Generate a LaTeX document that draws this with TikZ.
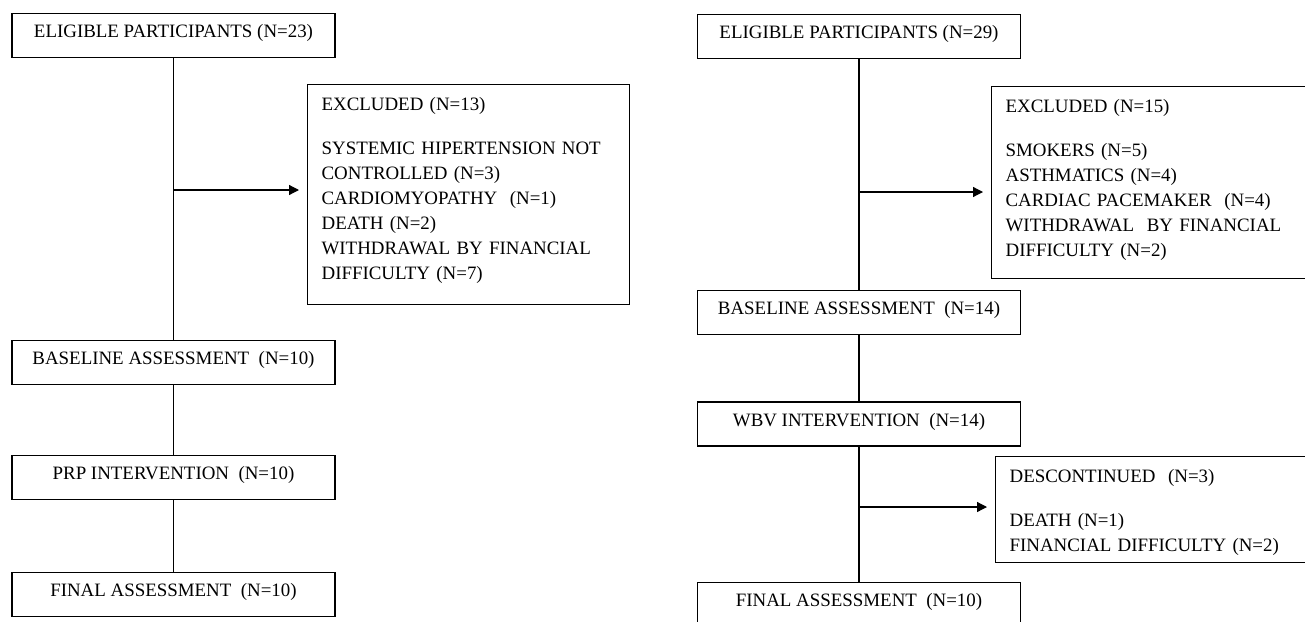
\documentclass[tikz,border=0pt]{standalone}
\usepackage{fontspec}
\setmainfont{Liberation Serif}
\usetikzlibrary{arrows.meta, positioning}

\begin{document}
\begin{tikzpicture}[
    x=1pt, y=1pt,
    stage/.style = {draw=black, rectangle, anchor=north, minimum width=323pt, text height=24pt, text depth=20pt, inner ysep=0pt},
    detailBox/.style = {draw=black, rectangle, anchor=north west, align=left, inner xsep=14pt, inner ysep=0pt, text height=26pt},
    branch/.style = {-{Triangle[length=10pt, width=10pt]}, shorten >=8pt},
    line width=1.2pt,
    font=\fontsize{18.9}{25}\selectfont
]
\useasboundingbox (0,0) rectangle (1305,-621);
\clip (0,0) rectangle (1305,-621);

\node(EligiblePrp)[stage] at (173.5,-13) {ELIGIBLE PARTICIPANTS (N=23)};
\node(BaselinePrp)[stage, below=281.5pt of EligiblePrp] {BASELINE ASSESSMENT~ (N=10)};
\node(InterventionPrp)[stage, below=70pt of BaselinePrp] {PRP INTERVENTION~ (N=10)};
\node(FinalPrp)[stage, below=71.5pt of InterventionPrp] {FINAL ASSESSMENT~ (N=10)};

\node(ExcludedPrp)[detailBox, text width=294pt, text depth=194pt] at (307,-84) {
    EXCLUDED (N=13)\\[19pt]
    SYSTEMIC HIPERTENSION NOT\\
    CONTROLLED (N=3)\\
    CARDIOMYOPATHY~ (N=1)\\
    DEATH (N=2)\\
    WITHDRAWAL BY FINANCIAL\\
    DIFFICULTY (N=7)
};

\draw (EligiblePrp) -- (BaselinePrp);
\draw (BaselinePrp) -- (InterventionPrp);
\draw (InterventionPrp) -- (FinalPrp);
\coordinate (ForkPrp) at (173.5,-190);
\draw[branch] (ForkPrp) -- (ForkPrp -| ExcludedPrp.west);

\node(EligibleWbv)[stage] at (859,-14) {ELIGIBLE PARTICIPANTS (N=29)};
\node(BaselineWbv)[stage, below=231pt of EligibleWbv] {BASELINE ASSESSMENT~ (N=14)};
\node(InterventionWbv)[stage, below=66pt of BaselineWbv] {WBV INTERVENTION~ (N=14)};
\node(FinalWbv)[stage, below=135pt of InterventionWbv] {FINAL ASSESSMENT~ (N=10)};

\node(ExcludedWbv)[detailBox, text width=310pt, text depth=166pt] at (991,-86) {
    EXCLUDED (N=15)\\[19pt]
    SMOKERS (N=5)\\
    ASTHMATICS (N=4)\\
    CARDIAC PACEMAKER~ (N=4)\\
    WITHDRAWAL~ BY FINANCIAL\\
    DIFFICULTY (N=2)
};

\node(Discontinued)[detailBox, text width=310pt, text depth=80pt] at (995,-456) {
    DESCONTINUED~ (N=3)\\[19pt]
    DEATH (N=1)\\
    FINANCIAL DIFFICULTY (N=2)
};

\draw (EligibleWbv) -- (BaselineWbv);
\draw (BaselineWbv) -- (InterventionWbv);
\draw (InterventionWbv) -- (FinalWbv);
\coordinate (ForkWbv) at (859,-192);
\draw[branch] (ForkWbv) -- (ForkWbv -| ExcludedWbv.west);
\coordinate (ForkDrop) at (859,-507);
\draw[branch] (ForkDrop) -- (ForkDrop -| Discontinued.west);

\end{tikzpicture}
\end{document}
